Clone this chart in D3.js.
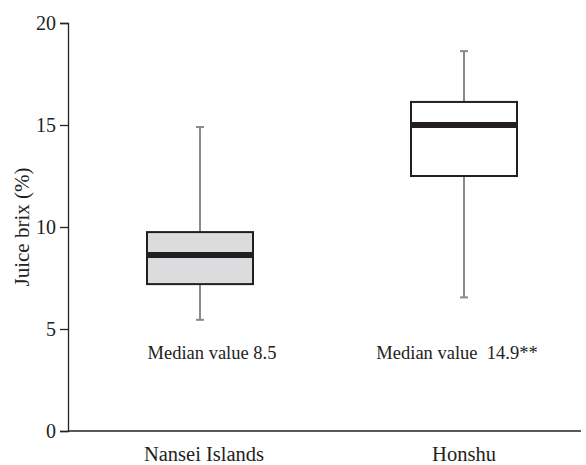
<!DOCTYPE html>
<html><head><meta charset="utf-8">
<script src="https://cdn.jsdelivr.net/npm/d3@7"></script>
<style>body{margin:0;background:#fff}svg{display:block;font-family:"Liberation Serif","Times New Roman",serif}</style>
</head><body>
<svg id="c" width="586" height="465"></svg>
<script>
const categories = ["Nansei Islands", "Honshu"];
const whiskerLow = [5.45, 6.55];
const q1 = [7.2, 12.5];
const medians = [8.63, 15.0];
const q3 = [9.75, 16.13];
const whiskerHigh = [14.9, 18.62];
const fills = ["#dcdcde", "#ffffff"];
const medianLabels = ["Median value 8.5", "Median value\u00a0 14.9**"];
const yTicks = [0, 5, 10, 15, 20];

const svg = d3.select("#c");
const x = d3.scaleBand().domain(categories).range([68, 596]).padding(0);
const y = d3.scaleLinear().domain([0, 20]).range([431, 23]);

// axes
const yAxis = svg.append("g").attr("transform", "translate(68,0)")
  .call(d3.axisLeft(y).tickValues(yTicks).tickSize(8).tickPadding(4));
yAxis.select(".domain").attr("stroke", "#222").attr("stroke-width", 1.3);
yAxis.selectAll(".tick line").attr("stroke", "#222").attr("stroke-width", 1.3);
yAxis.selectAll(".tick text").attr("font-size", 20).attr("fill", "#222")
  .attr("font-family", "Liberation Serif, serif");

svg.append("line").attr("x1", 68).attr("x2", 581).attr("y1", y(0)).attr("y2", y(0))
  .attr("stroke", "#222").attr("stroke-width", 1.3);

svg.append("text").attr("transform", `translate(22,${y(10)}) rotate(-90)`)
  .attr("text-anchor", "middle").attr("font-size", 21).attr("fill", "#222")
  .attr("dominant-baseline", "central")
  .text("Juice brix (%)");

const bw = 106;
const g = svg.append("g");
categories.forEach((c, i) => {
  const cx = x(c) + x.bandwidth() / 2;
  // whiskers
  g.append("line").attr("x1", cx).attr("x2", cx).attr("y1", y(whiskerHigh[i])).attr("y2", y(q3[i]))
    .attr("stroke", "#8a8a8a").attr("stroke-width", 2);
  g.append("line").attr("x1", cx).attr("x2", cx).attr("y1", y(q1[i])).attr("y2", y(whiskerLow[i]))
    .attr("stroke", "#8a8a8a").attr("stroke-width", 2);
  [whiskerHigh[i], whiskerLow[i]].forEach(v => {
    g.append("line").attr("x1", cx - 4).attr("x2", cx + 4).attr("y1", y(v)).attr("y2", y(v))
      .attr("stroke", "#8a8a8a").attr("stroke-width", 2);
  });
  // box
  g.append("rect").attr("x", cx - bw / 2).attr("y", y(q3[i])).attr("width", bw)
    .attr("height", y(q1[i]) - y(q3[i])).attr("fill", fills[i])
    .attr("stroke", "#231f20").attr("stroke-width", 2);
  // median
  g.append("line").attr("x1", cx - bw / 2).attr("x2", cx + bw / 2).attr("y1", y(medians[i])).attr("y2", y(medians[i]))
    .attr("stroke", "#231f20").attr("stroke-width", 6);
  // median label
  g.append("text").attr("x", cx + (i === 0 ? 12 : -7)).attr("y", 359).attr("text-anchor", "middle")
    .attr("font-size", 18.5).attr("fill", "#222").text(medianLabels[i]);
  // category label
  g.append("text").attr("x", cx + (i === 0 ? 4 : 0)).attr("y", 461).attr("text-anchor", "middle")
    .attr("font-size", 20.5).attr("fill", "#222").text(c);
});
</script>
</body></html>
